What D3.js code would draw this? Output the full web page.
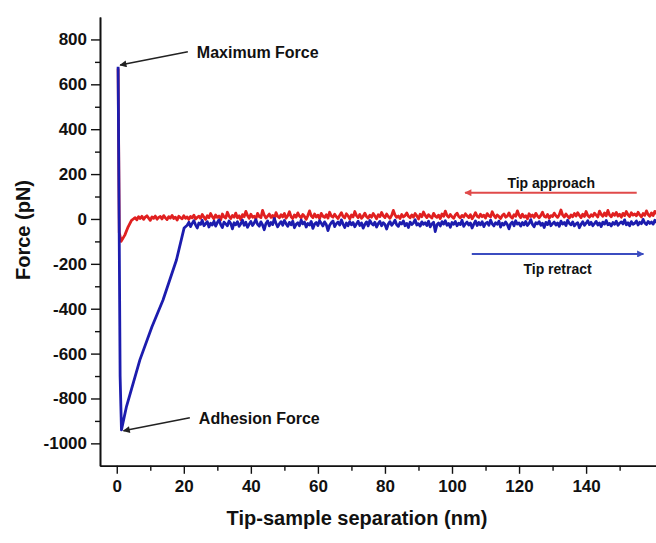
<!DOCTYPE html>
<html>
<head>
<meta charset="utf-8">
<script src="https://cdn.jsdelivr.net/npm/d3@7"></script>
<style>
  body { margin: 0; background: #fff; }
  svg { display: block; font-family: 'Liberation Sans', Arial, sans-serif; }
</style>
</head>
<body>
<div id="chart"></div>
<script>
// Axes
const X_TICKS = [0, 20, 40, 60, 80, 100, 120, 140]
const X_MINOR = [10, 30, 50, 70, 90, 110, 130, 150]
const Y_TICKS = [-1000, -800, -600, -400, -200, 0, 200, 400, 600, 800]
const Y_MINOR = [-900, -700, -500, -300, -100, 100, 300, 500, 700]

// Approach (red) — contact part, then noisy baseline from x = 5 nm, 0.5 nm step
const approachContact = [[0.4, 670], [0.75, -60], [1.3, -100], [2.4, -72], [3.4, -35], [4.4, -6]]
const approachNoiseStart = 5
const approachNoise = [
  0, 6, -4, 10, 2, 12, -2, 8, 14, 4, -6, 9, 3, 13, -1, 7, 11, 0, 15, 5,
  -3, 10, 4, 16, 2, 8, -5, 12, 6, 1, 14, 3, 9, -2, 11, 5, 17, 0, 7, 12,
  3, 20, 8, -2, 14, 6, 24, 10, 1, 18, 7, 13, -4, 22, 9, 4, 30, 12, 2, 16,
  8, 26, 5, 14, -3, 19, 10, 34, 15, 3, 21, 8, 12, 0, 25, 11, 6, 38, 17, 4,
  13, 22, 7, 16, -1, 28, 12, 5, 19, 9, 24, 3, 14, 32, 10, 2, 18, 8, 27, 13,
  5, 20, 11, -2, 15, 36, 14, 6, 22, 9, 17, 1, 25, 12, 7, 19, 4, 30, 13, 8,
  21, 10, 2, 16, 28, 11, 5, 23, 14, 0, 18, 9, 33, 15, 6, 20, 3, 12, 26, 10,
  4, 17, 8, 24, 13, 1, 19, 10, 29, 14, 6, 22, 11, 3, 16, 38, 18, 7, 13, 2,
  20, 9, 15, 27, 12, 5, 18, 8, 24, 14, 0, 21, 10, 31, 16, 6, 19, 11, 4, 25,
  13, 7, 17, 2, 22, 12, 35, 15, 8, 20, 10, 3, 18, 26, 11, 5, 16, 9, 23, 14,
  6, 19, 1, 13, 28, 12, 7, 21, 10, 17, 4, 24, 14, 9, 32, 16, 5, 18, 11, 2,
  15, 22, 8, 13, 27, 10, 4, 19, 12, 36, 17, 6, 21, 9, 14, 1, 23, 11, 18, 7,
  25, 13, 5, 16, 30, 12, 8, 20, 3, 15, 11, 26, 14, 7, 19, 40, 17, 9, 22, 12,
  4, 18, 10, 24, 13, 28, 16, 6, 21, 11, 33, 15, 8, 19, 12, 26, 17, 9, 35, 20,
  12, 27, 14, 38, 18, 10, 24, 16, 29, 13, 21, 8, 25, 15, 33, 19, 11, 28, 17, 22,
  14, 30, 18, 9, 24, 16, 36, 20, 12, 27, 15, 34, 22
]

// Retract (blue) — max force, adhesion dip, then noisy baseline from x = 21 nm, 0.5 nm step
const retractContact = [
  [0.4, 678], [0.7, 0], [1.0, -700], [1.4, -940], [2.9, -836],
  [6.9, -628], [10.5, -480], [13.8, -361], [17.8, -183], [20.1, -40]
]
const retractNoiseStart = 21
const retractNoise = [
  -28, -15, -34, -20, -8, -26, -40, -18, -24, -6, -30, -22, -12, -36, -19, -27, -10, -32, -16, -4,
  -25, -38, -14, -22, -30, -9, -20, -44, -17, -26, -12, -33, -21, -6, -28, -15, -37, -23, -11, -29,
  -18, -3, -24, -32, -13, -27, -48, -20, -9, -31, -16, -25, 2, -19, -35, -22, -12, -28, -7, -21,
  -33, -15, -26, -10, -39, -24, -17, -30, -5, -22, -14, -36, -20, -27, -11, -42, -23, -16, -29, -8,
  -19, -31, -13, -25, -52, -28, -17, -9, -34, -21, -14, -27, -4, -23, -38, -18, -30, -12, -26, -16,
  -35, -22, -10, -29, -18, -41, -24, -13, -31, -7, -20, -27, -15, -36, -21, -11, -30, -17, -25, -45,
  -23, -12, -28, -19, -6, -26, -33, -16, -22, -9, -30, -20, -38, -14, -25, -18, -3, -27, -21, -32,
  -13, -24, -17, -29, -10, -35, -22, -15, -56, -26, -18, -31, -12, -23, -8, -28, -20, -37, -16, -24,
  -11, -30, -19, -25, -6, -33, -21, -14, -27, -18, -40, -23, -9, -29, -16, -26, -12, -34, -20, -15,
  -28, -5, -22, -31, -17, -24, -10, -36, -19, -27, -13, -25, -44, -21, -14, -30, -8, -23, -18, -32,
  -16, -26, -11, -29, -20, -3, -24, -35, -17, -22, -12, -28, -19, -38, -15, -25, -9, -30, -21, -14,
  -27, -18, -33, -10, -23, -16, -29, -6, -20, -26, -13, -31, -22, -17, -39, -24, -12, -28, -19, -8,
  -25, -15, -30, -21, -11, -27, -18, -34, -14, -23, -7, -26, -20, -31, -16, -24, -10, -28, -19, -13,
  -22, -4, -26, -17, -30, -12, -24, -19, -9, -27, -15, -21, -2, -18, -25, -11, -20, -14, -23, -6,
  -17
]
const noiseStep = 0.5

// Annotations (data coords)
const notes = [
  { text: 'Maximum Force', from: [21.2, 745], to: [1.0, 686] },
  { text: 'Adhesion Force', from: [21.8, -886], to: [2.0, -944] }
]

const C = { red: '#e02020', blue: '#1c1cae', redArrow: '#e04a4a', blueArrow: '#3b4cc0', axis: '#111' }

const W = 656, H = 543
const svg = d3.select('#chart').append('svg').attr('width', W).attr('height', H)

const x = d3.scaleLinear().domain([-5, 161]).range([100, 656.5])
const y = d3.scaleLinear().domain([-1100, 900]).range([465.8, 17])

// build series
const approach = approachContact.concat(approachNoise.map((v, i) => [approachNoiseStart + i * noiseStep, v]))
const retract = retractContact.concat(retractNoise.map((v, i) => [retractNoiseStart + i * noiseStep, v]))

const line = d3.line().x(d => x(d[0])).y(d => y(d[1]))

svg.append('path').datum(approach)
  .attr('d', line).attr('fill', 'none')
  .attr('stroke', C.red).attr('stroke-width', 2.8).attr('stroke-linejoin', 'round')

svg.append('path').datum(retract)
  .attr('d', line).attr('fill', 'none')
  .attr('stroke', C.blue).attr('stroke-width', 2.8).attr('stroke-linejoin', 'round')

// Axes
function styleAxis(g) {
  g.select('.domain').attr('stroke', C.axis).attr('stroke-width', 1.6)
  g.selectAll('.tick line').attr('stroke', C.axis).attr('stroke-width', 1.4)
  g.selectAll('.tick text').attr('fill', '#111').attr('font-size', 17).attr('font-weight', 'bold')
}
const plain = d => String(d)

svg.append('g').attr('transform', `translate(0,${y(-1100)})`)
  .call(d3.axisBottom(x).tickValues(X_MINOR).tickSize(5).tickFormat('').tickSizeOuter(0))
  .call(styleAxis)
svg.append('g').attr('transform', `translate(0,${y(-1100)})`)
  .call(d3.axisBottom(x).tickValues(X_TICKS).tickSize(8).tickPadding(6).tickSizeOuter(0).tickFormat(plain))
  .call(styleAxis)

svg.append('g').attr('transform', `translate(${x(-5)},0)`)
  .call(d3.axisLeft(y).tickValues(Y_MINOR).tickSize(5).tickFormat('').tickSizeOuter(0))
  .call(styleAxis)
svg.append('g').attr('transform', `translate(${x(-5)},0)`)
  .call(d3.axisLeft(y).tickValues(Y_TICKS).tickSize(9).tickPadding(4).tickSizeOuter(0).tickFormat(plain))
  .call(styleAxis)

// Axis titles
svg.append('text')
  .attr('x', 357).attr('y', 525)
  .attr('text-anchor', 'middle')
  .attr('font-size', 20).attr('font-weight', 'bold').attr('fill', '#111')
  .text('Tip-sample separation (nm)')

svg.append('text')
  .attr('transform', 'translate(30,230) rotate(-90)')
  .attr('text-anchor', 'middle')
  .attr('font-size', 20).attr('font-weight', 'bold').attr('fill', '#111')
  .text('Force (pN)')

// Arrow markers
const defs = svg.append('defs')
function marker(id, color) {
  defs.append('marker')
    .attr('id', id).attr('viewBox', '0 0 10 10')
    .attr('refX', 9).attr('refY', 5)
    .attr('markerWidth', 10).attr('markerHeight', 7)
    .attr('markerUnits', 'userSpaceOnUse')
    .attr('orient', 'auto')
    .append('path').attr('d', 'M0,0 L10,5 L0,10 Z').attr('fill', color)
}
marker('arrBlack', '#222')
marker('arrRed', C.redArrow)
marker('arrBlue', C.blueArrow)

notes.forEach(n => {
  svg.append('line')
    .attr('x1', x(n.from[0])).attr('y1', y(n.from[1]))
    .attr('x2', x(n.to[0])).attr('y2', y(n.to[1]))
    .attr('stroke', '#222').attr('stroke-width', 1.6)
    .attr('marker-end', 'url(#arrBlack)')
  svg.append('text')
    .attr('x', x(n.from[0]) + 9).attr('y', y(n.from[1]) + 6)
    .attr('font-size', 16).attr('font-weight', 'bold').attr('fill', '#111')
    .text(n.text)
})

// Direction arrows
svg.append('line')
  .attr('x1', x(155.1)).attr('y1', y(117)).attr('x2', x(103.9)).attr('y2', y(117))
  .attr('stroke', C.redArrow).attr('stroke-width', 2)
  .attr('marker-end', 'url(#arrRed)')
svg.append('text')
  .attr('x', x(129.6)).attr('y', y(140))
  .attr('text-anchor', 'middle')
  .attr('font-size', 14).attr('font-weight', 'bold').attr('fill', '#111')
  .text('Tip approach')

svg.append('line')
  .attr('x1', x(105.9)).attr('y1', y(-156)).attr('x2', x(157.1)).attr('y2', y(-156))
  .attr('stroke', C.blueArrow).attr('stroke-width', 2)
  .attr('marker-end', 'url(#arrBlue)')
svg.append('text')
  .attr('x', x(131.5)).attr('y', y(-246))
  .attr('text-anchor', 'middle')
  .attr('font-size', 14).attr('font-weight', 'bold').attr('fill', '#111')
  .text('Tip retract')
</script>
</body>
</html>
